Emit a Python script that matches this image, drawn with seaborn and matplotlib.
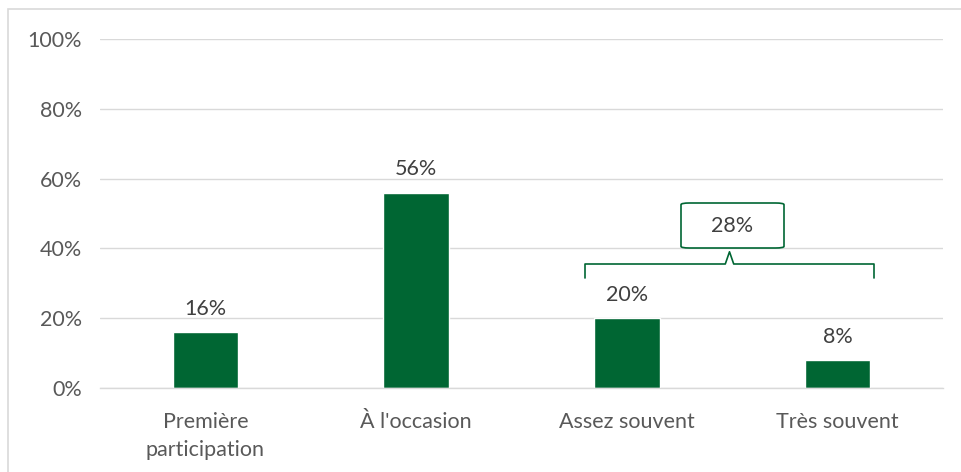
import matplotlib
matplotlib.use("Agg")
import matplotlib.pyplot as plt
import seaborn as sns
import pandas as pd
from matplotlib.patches import FancyBboxPatch, Rectangle

categories = ["Première\nparticipation", "À l'occasion", "Assez souvent", "Très souvent"]
values = [16, 56, 20, 8]
value_labels = ["16%", "56%", "20%", "8%"]
yticks = [0, 20, 40, 60, 80, 100]
ytick_labels = ["0%", "20%", "40%", "60%", "80%", "100%"]
group_label = "28%"
group_value = 28

GREEN = "#006633"
TEXT = "#595959"
FS = 15.5

sns.set_theme(style="white")
plt.rcParams["font.family"] = ["Lato", "DejaVu Sans"]

fig = plt.figure(figsize=(9.61, 4.72), dpi=100)
W, H = 961, 472
ax = fig.add_axes([100 / W, 1 - 388 / H, (943 - 100) / W, (388 - 39) / H])

df = pd.DataFrame({"cat": categories, "val": values})
sns.barplot(data=df, x="cat", y="val", color=GREEN, saturation=1, width=0.31, ax=ax)

ax.set_ylim(0, 100)
ax.set_xlim(-0.5, 3.5)
ax.set_yticks(yticks)
ax.set_yticklabels(ytick_labels)
ax.grid(axis="y", color="#d9d9d9", linewidth=1)
ax.set_axisbelow(True)
for s in ["top", "right", "left"]:
    ax.spines[s].set_visible(False)
ax.spines["bottom"].set_color("#d9d9d9")
ax.spines["bottom"].set_linewidth(1)
ax.tick_params(axis="both", length=0, labelsize=FS, colors=TEXT)
ax.tick_params(axis="x", pad=17)
ax.tick_params(axis="y", pad=13)
for t in ax.get_xticklabels():
    t.set_linespacing(1.5)
ax.set_xlabel("")
ax.set_ylabel("")

for i, (v, lab) in enumerate(zip(values, value_labels)):
    ax.text(i, v + 3.8, lab, ha="center", va="bottom", fontsize=FS, color="#404040")

# brace over the last two bars
px = 4 / 843
yb_top = 100 * (388 - 264) / (388 - 39)
yb_bot = 100 * (388 - 278) / (388 - 39)
x_l = (585 - 100) * px - 0.5
x_r = (874 - 100) * px - 0.5
x_m = (x_l + x_r) / 2
ax.plot([x_l, x_l, x_m - 0.02, x_m, x_m + 0.02, x_r, x_r],
        [yb_bot, yb_top, yb_top, yb_top + 3.5, yb_top, yb_top, yb_bot],
        color=GREEN, linewidth=1.2, clip_on=False, solid_joinstyle="round")

# label box
bx0 = (681 - 100) * px - 0.5
bx1 = (784 - 100) * px - 0.5
by0 = 100 * (388 - 248) / (388 - 39)
by1 = 100 * (388 - 203) / (388 - 39)
box = FancyBboxPatch((bx0, by0), bx1 - bx0, by1 - by0,
                     boxstyle="round,pad=0,rounding_size=0.04",
                     mutation_aspect=12, facecolor="white", edgecolor=GREEN,
                     linewidth=1.2, zorder=5)
ax.add_patch(box)
ax.text((bx0 + bx1) / 2, (by0 + by1) / 2, group_label, ha="center", va="center",
        fontsize=FS, color="#404040", zorder=6)

# outer frame
fig.patches.append(Rectangle((8 / W, -0.05), 1.1, 1 - 9 / H + 0.05, transform=fig.transFigure,
                             fill=False, edgecolor="#d9d9d9", linewidth=1.2))

fig.savefig("out.png", dpi=100)
